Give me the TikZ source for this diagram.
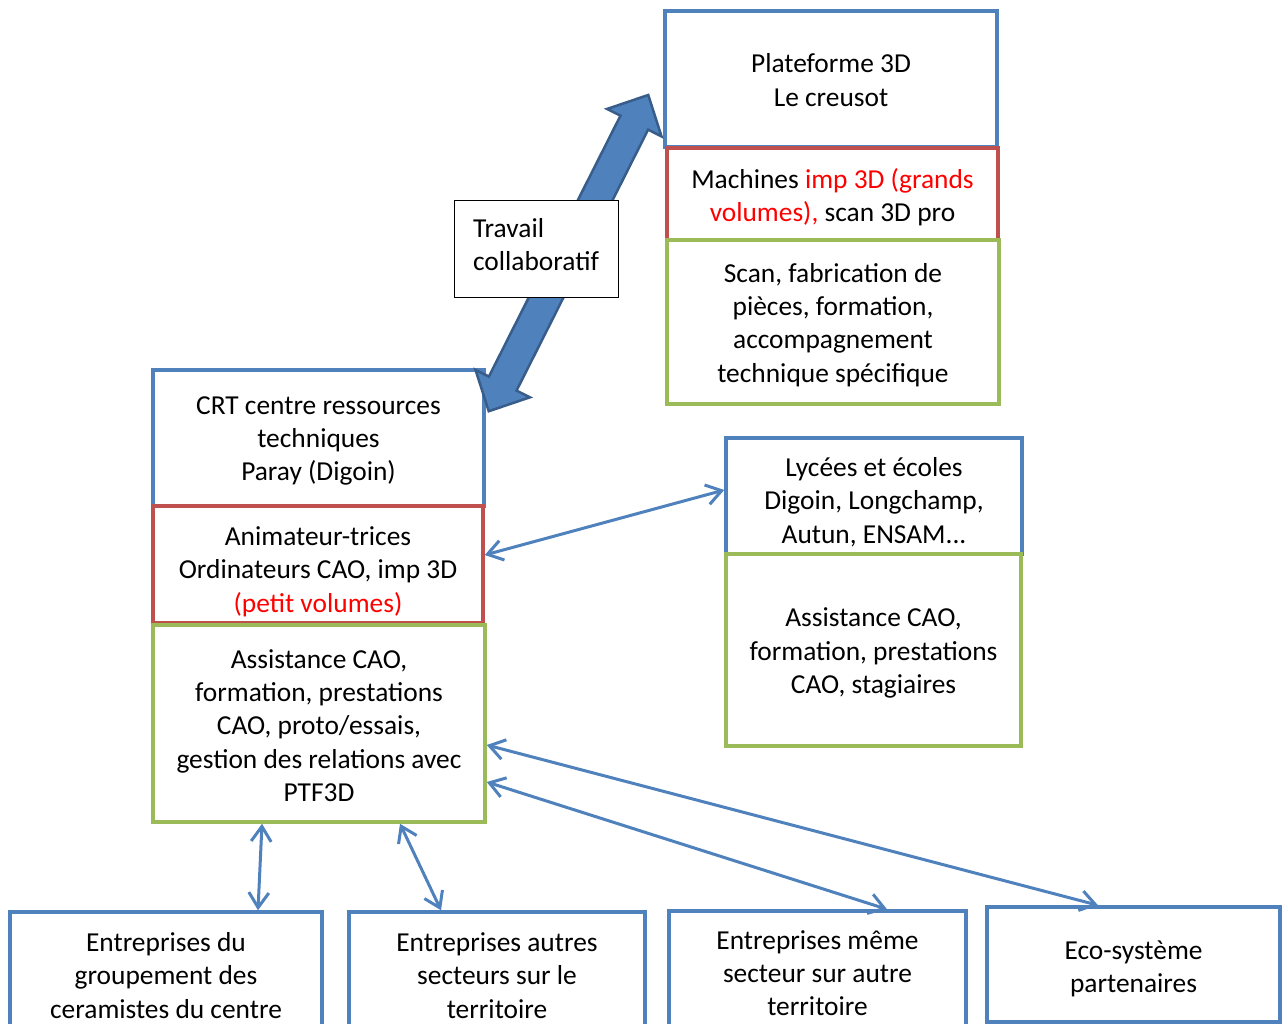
\documentclass[tikz,border=0pt]{standalone}
\usepackage{fontspec}
\setmainfont{Carlito}
\usetikzlibrary{arrows.meta,calc}
\definecolor{bblue}{HTML}{4F81BD}
\definecolor{bred}{HTML}{C0504D}
\definecolor{bgreen}{HTML}{9BBB59}
\definecolor{darkblue}{HTML}{385D8A}
\begin{document}
\begin{tikzpicture}[x=1pt,y=-1pt,
  every node/.style={font=\fontsize{27.4}{33.3}\selectfont, align=center, inner sep=0pt},
  bx/.style={draw, line width=3.5pt, minimum width=#1},
  bluebox/.style={bx=#1, draw=bblue},
  redbox/.style={bx=#1, draw=bred},
  greenbox/.style={bx=#1, draw=bgreen},
  link/.style={draw=bblue, line width=3pt, {Straight Barb[length=15pt,width=20pt]}-{Straight Barb[length=15pt,width=20pt]}},
  bigarrow/.style={fill=bblue, draw=darkblue, line width=2.5pt, line join=miter}
]
\clip (0,0) rectangle (1282,1024);
% Plateforme column
\node[bluebox=332pt, minimum height=136pt] (plat) at (831,79) {};
\node (platT) at ([yshift=-1pt]plat.center) {Plateforme 3D\\Le creusot};
\node[redbox=331pt, minimum height=92pt] (mach) at (832.5,194) {};
\node (machT) at ([yshift=-3pt]mach.center) {Machines \textcolor{red}{imp 3D (grands}\\\textcolor{red}{volumes),} scan 3D pro};
\node[greenbox=332pt, minimum height=164pt] (scan) at (833,322) {};
\node (scanT) at ([yshift=-3pt]scan.center) {Scan, fabrication de\\pièces, formation,\\accompagnement\\technique spécifique};
% CRT column
\node[bluebox=331pt, minimum height=136pt] (crt) at (318.5,438) {};
\node (crtT) at ([yshift=-3pt]crt.center) {CRT centre ressources\\techniques\\Paray (Digoin)};
\node[redbox=330pt, minimum height=117pt] (anim) at (318,564.5) {};
\node (animT) at ([yshift=-7pt]anim.center) {Animateur-trices\\Ordinateurs CAO, imp 3D\\\textcolor{red}{(petit volumes)}};
\node[greenbox=332pt, minimum height=197pt] (asst) at (319,723.5) {};
\node (asstT) at ([yshift=-2pt]asst.center) {Assistance CAO,\\formation, prestations\\CAO, proto/essais,\\gestion des relations avec\\PTF3D};
% Lycees
\node[bluebox=296pt, minimum height=116pt] (lyc) at (874,496) {};
\node (lycT) at ([yshift=-6pt]lyc.center) {Lycées et écoles\\Digoin, Longchamp,\\Autun, ENSAM...};
\node[greenbox=295pt, minimum height=192pt] (asst2) at (873.5,650) {};
\node (asst2T) at ([yshift=-3pt]asst2.center) {Assistance CAO,\\formation, prestations\\CAO, stagiaires};
% bottom row
\node[bluebox=312pt, minimum height=126pt] (b1) at (166,975) {};
\node (b1T) at ([yshift=-0.5pt]b1.center) {Entreprises du\\groupement des\\ceramistes du centre};
\node[bluebox=296pt, minimum height=126pt] (b2) at (497,975) {};
\node (b2T) at ([yshift=-0.5pt]b2.center) {Entreprises autres\\secteurs sur le\\territoire};
\node[bluebox=297pt, minimum height=124pt] (b3) at (817.5,973) {};
\node (b3T) at (b3.center) {Entreprises même\\secteur sur autre\\territoire};
\node[bluebox=293pt, minimum height=115pt] (b4) at (1133.5,964.5) {};
\node (b4T) at ([yshift=-4pt]b4.center) {Eco-système\\partenaires};
% thin connectors
\draw[link] ([yshift=9.5pt]anim.east) -- ([yshift=6pt]lyc.west);
\draw[link] ([xshift=-57pt]asst.south) -- ([xshift=92pt]b1.north);
\draw[link] ([xshift=81pt]asst.south) -- ([xshift=-56pt]b2.north);
\draw[link] ([yshift=-58.5pt]asst.east) -- ([xshift=69.5pt]b3.north);
\draw[link] ([yshift=-21.5pt]asst.east) -- ([xshift=-35.5pt]b4.north);
% big double block arrow
\coordinate (A) at ([shift={(3,43)}]crt.north east);
\coordinate (B) at ([shift={(-15,16)}]plat.west);
\coordinate (H1) at ($(A)!31pt!(B)$);
\coordinate (H2) at ($(B)!31pt!(A)$);
\path[bigarrow] (A) -- ($(H1)!30.5pt!90:(B)$) -- ($(H1)!15.5pt!90:(B)$)
  -- ($(H2)!15.5pt!-90:(A)$) -- ($(H2)!30.5pt!-90:(A)$) -- (B)
  -- ($(H2)!30.5pt!90:(A)$) -- ($(H2)!15.5pt!90:(A)$)
  -- ($(H1)!15.5pt!-90:(B)$) -- ($(H1)!30.5pt!-90:(B)$) -- cycle;
\node[draw=black, line width=1pt, fill=white, minimum width=164pt, minimum height=97pt] (trav) at (536,249.5) {};
\node[align=left] (travT) at ([yshift=5pt]trav.center) {Travail\\collaboratif};
\end{tikzpicture}
\end{document}
